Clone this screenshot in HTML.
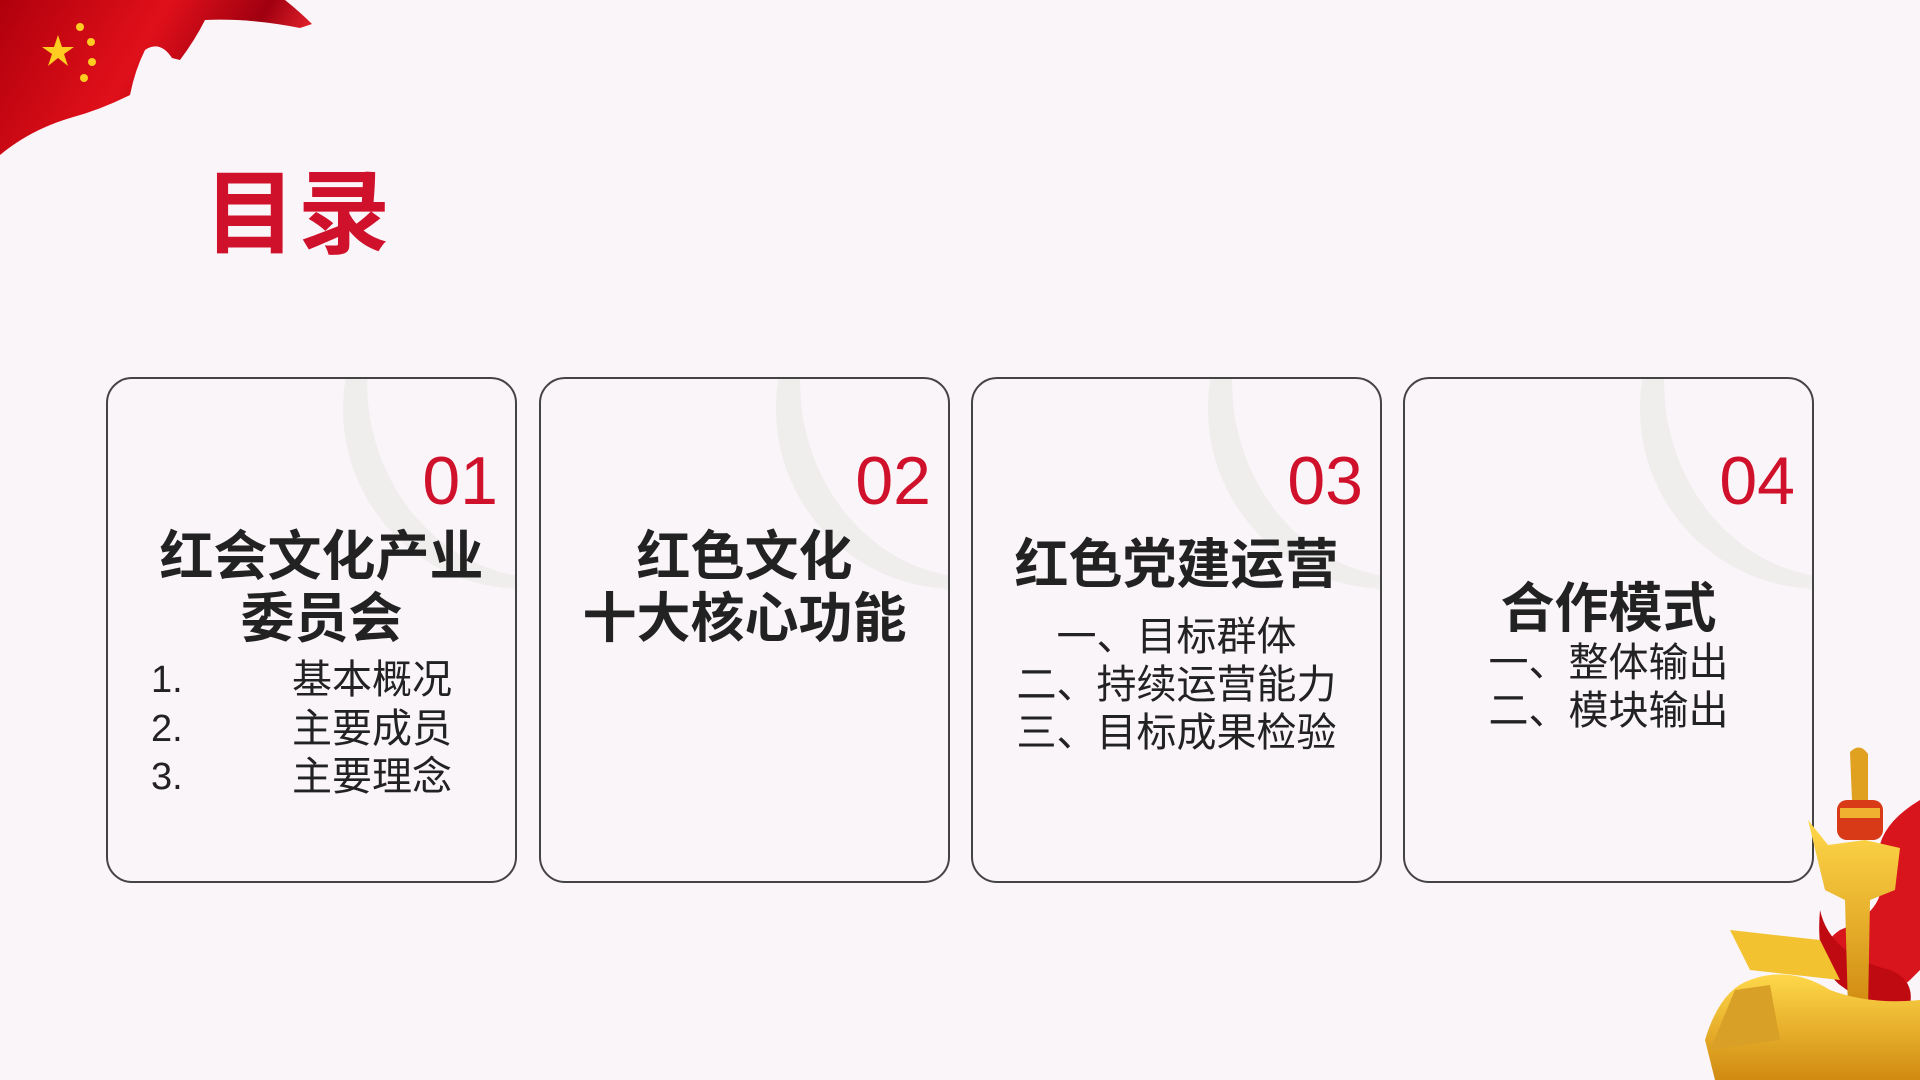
<!DOCTYPE html>
<html><head><meta charset="utf-8"><style>
*{margin:0;padding:0;box-sizing:border-box}
body{width:1920px;height:1080px;background:#faf5f9;position:relative;overflow:hidden;font-family:"Liberation Sans","Noto Sans CJK SC",sans-serif;color:#222}
.card{position:absolute;top:377px;width:411px;height:506px;border:2px solid #444;border-radius:26px;overflow:hidden}
.arc{position:absolute;left:235px;top:-150px;width:360px;height:360px;border-radius:50%;border-left:30px solid #f0eded;border-bottom:8px solid #f2efef;transform:rotate(-25deg)}
.num{position:absolute;right:17px;top:64px;font-size:68px;color:#d0112b;line-height:76px}
.t{position:absolute;left:0;width:100%;text-align:center;font-weight:bold;font-size:54px;line-height:62px;color:#222}
.s{position:absolute;left:0;width:100%;text-align:center;font-size:40px;line-height:48px;color:#222}
.abs{position:absolute}
</style></head><body>
<svg class="abs" style="left:0;top:0" width="320" height="160" viewBox="0 0 320 160">
<defs><linearGradient id="fg" x1="0" y1="0" x2="1" y2="0.3"><stop offset="0" stop-color="#b0000c"/><stop offset="0.5" stop-color="#e0101a"/><stop offset="0.8" stop-color="#a00010"/><stop offset="1" stop-color="#f02830"/></linearGradient></defs>
<path d="M0 0 L285 0 Q300 12 312 24 L300 28 Q250 18 205 20 Q195 40 180 60 L172 58 Q160 40 145 50 Q135 70 130 95 Q100 110 70 118 Q30 130 0 155 Z" fill="url(#fg)"/>
<g fill="#ffcc22"><polygon points="58,35 62,47 74,47 64,54 68,66 58,58 48,66 52,54 42,47 54,47"/><circle cx="80" cy="27" r="4"/><circle cx="91" cy="42" r="4"/><circle cx="92" cy="62" r="4"/><circle cx="84" cy="78" r="4"/></g>
</svg>
<div class="abs" style="left:204px;top:160px;font-size:92px;font-weight:bold;color:#d0112b;line-height:110px;letter-spacing:2px">目录</div>

<div class="card" style="left:106px"><div class="arc"></div><div class="num">01</div>
<div class="t" style="top:147px;left:10px">红会文化产业<br>委员会</div>
<div class="abs" style="left:43px;top:277px;font-size:38px;line-height:48.5px">1.<br>2.<br>3.</div>
<div class="abs" style="left:184px;top:277px;font-size:40px;line-height:48.5px">基本概况<br>主要成员<br>主要理念</div>
</div>
<div class="card" style="left:539px"><div class="arc"></div><div class="num">02</div>
<div class="t" style="top:147px">红色文化<br>十大核心功能</div>
</div>
<div class="card" style="left:971px"><div class="arc"></div><div class="num">03</div>
<div class="t" style="top:155px">红色党建运营</div>
<div class="s" style="top:234px">一、目标群体<br>二、持续运营能力<br>三、目标成果检验</div>
</div>
<div class="card" style="left:1403px"><div class="arc"></div><div class="num">04</div>
<div class="t" style="top:199px">合作模式</div>
<div class="s" style="top:260px">一、整体输出<br>二、模块输出</div>
</div>

<svg class="abs" style="left:1690px;top:740px" width="230" height="340" viewBox="0 0 230 340">
<defs><linearGradient id="gd" x1="0" y1="0" x2="0" y2="1"><stop offset="0" stop-color="#ffd84a"/><stop offset="1" stop-color="#d08a10"/></linearGradient></defs>
<path d="M230 60 Q180 90 190 130 Q200 170 150 190 Q120 210 150 240 Q200 260 220 240 L230 230 Z" fill="#d8141c"/>
<path d="M130 170 Q140 215 200 230 Q225 240 220 265 Q190 275 150 245 Q125 225 130 170Z" fill="#c00a12"/>
<path d="M160 12 Q170 2 178 14 L178 60 L162 60 Z" fill="#e0a020"/>
<rect x="147" y="60" width="46" height="40" rx="10" fill="#d83a18"/>
<rect x="150" y="68" width="40" height="10" fill="#f0b030"/>
<path d="M118 80 L138 105 L175 100 L210 108 L205 150 L180 160 L178 270 L158 270 L155 160 L135 150 Z" fill="url(#gd)"/>
<path d="M40 190 L130 200 L150 240 L60 230 Z" fill="#f2c230"/>
<path d="M15 300 Q30 250 60 240 Q100 225 140 250 Q180 265 230 260 L230 340 L25 340 Z" fill="url(#gd)"/>
<path d="M20 310 L45 250 L80 245 L90 300 Z" fill="#d9a028"/>
</svg>
</body></html>
